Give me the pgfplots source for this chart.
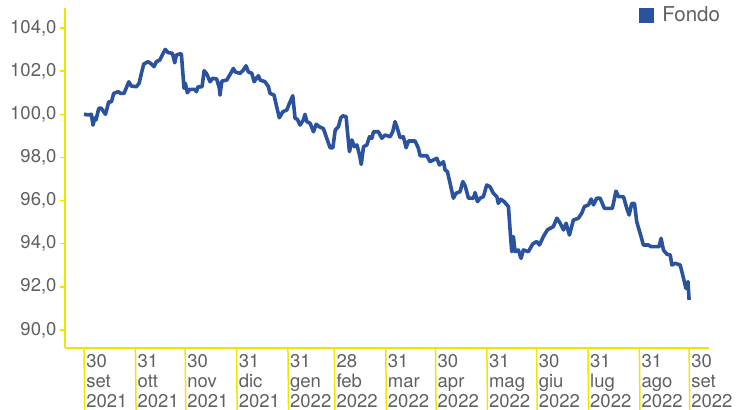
\documentclass[border=0pt]{standalone}
\usepackage{fontspec}
\setmainfont{TeX Gyre Heros}
\usepackage{pgfplots}
\usepackage{pgfplotstable}
\pgfplotsset{compat=1.18}
\definecolor{ayel}{HTML}{F2E500}
\definecolor{fblue}{HTML}{2B529E}
\definecolor{tgray}{HTML}{5F6062}
\pgfplotstableread{
d v
0 100.01
2.4 99.97
4.4 100.00
5.4 99.50
6.5 99.83
7.2 99.74
8.9 100.28
10.4 100.28
12.9 100.00
14.9 100.58
16.5 100.58
17.9 100.97
20.5 101.05
22.1 100.97
24.1 100.97
27.0 101.51
28.5 101.31
31.6 101.28
33.2 101.44
34.6 101.90
36.0 102.33
38.6 102.44
40.2 102.36
42.2 102.21
43.6 102.44
45.7 102.52
47.7 102.83
49.0 103.01
50.7 102.86
53.3 102.83
54.7 102.39
55.7 102.75
57.7 102.80
58.7 102.80
60.3 101.21
61.1 101.44
62.3 101.00
63.8 101.16
66.8 101.16
67.8 101.05
68.8 101.28
71.2 101.28
72.4 102.02
73.8 101.90
75.0 101.70
76.0 101.51
77.6 101.67
80.0 101.64
81.6 101.21
82.0 100.89
83.1 101.54
86.1 101.59
88.1 101.85
90.1 102.13
91.1 101.97
94.1 101.90
96.1 102.05
97.7 102.25
99.1 101.97
101.2 101.90
102.6 101.51
104.2 101.70
105.2 101.79
106.2 101.59
109.2 101.51
111.2 101.28
112.2 100.97
114.6 100.89
116.2 100.35
117.8 99.84
119.9 100.12
122.3 100.20
123.9 100.51
125.9 100.86
127.3 99.81
128.7 99.77
130.3 99.50
132.3 99.74
133.3 100.00
134.4 99.66
136.4 99.58
138.4 99.19
140.0 99.54
142.0 99.42
144.4 99.34
146.4 98.89
148.4 98.45
150.1 98.45
151.5 99.27
153.4 99.42
154.9 99.84
156.1 99.93
158.1 99.89
158.9 99.19
160.1 98.27
161.6 98.81
163.0 98.50
164.6 98.58
166.2 98.11
167.2 97.68
168.6 98.50
170.6 98.58
172.2 98.96
173.6 98.89
174.6 99.19
177.6 99.19
179.6 98.89
181.6 99.04
184.6 98.96
186.2 99.19
187.6 99.66
189.0 99.35
190.6 98.92
192.6 98.96
194.3 98.45
195.7 98.76
199.7 98.76
201.7 98.42
202.7 98.08
206.8 98.08
208.7 97.80
210.7 97.88
212.8 97.96
214.4 97.65
216.8 97.80
217.8 97.42
219.2 97.34
220.8 96.80
222.8 96.11
224.4 96.34
226.8 96.41
228.5 96.88
229.9 96.68
231.9 96.11
234.9 96.11
235.9 96.37
237.3 95.95
238.9 96.11
240.9 96.18
242.9 96.72
244.9 96.64
246.9 96.34
249.0 96.18
249.9 95.87
251.4 96.06
253.4 95.95
256.0 95.72
257.0 94.64
258.0 93.63
259.0 94.33
260.0 93.63
262.0 93.71
263.6 93.32
265.0 93.71
268.0 93.63
270.7 93.99
273.1 94.10
274.7 93.94
277.1 94.33
279.5 94.64
281.1 94.71
283.1 94.79
285.2 95.18
287.2 94.95
289.2 94.64
290.8 94.95
292.8 94.40
295.2 95.10
298.2 95.18
300.2 95.41
301.8 95.72
304.3 95.80
305.9 96.07
307.3 95.80
309.3 96.11
311.3 96.11
313.9 95.64
316.3 95.64
318.7 95.64
320.9 96.44
322.4 96.18
325.4 96.18
327.4 95.64
328.8 95.33
330.4 95.87
332.0 95.87
333.4 95.02
336.0 94.33
337.4 93.94
340.4 93.94
342.1 93.86
346.9 93.86
348.1 94.25
349.5 93.71
351.6 93.51
353.6 93.48
354.6 93.01
356.6 93.09
359.6 93.01
361.6 92.40
363.1 91.93
364.3 92.24
365.0 91.39
}\fondo
\begin{document}
\begin{tikzpicture}
\useasboundingbox (0,0) rectangle (736bp,410bp);
\begin{axis}[
  at={(65bp,62bp)}, anchor=south west,
  scale only axis, width=644bp, height=340bp,
  xmin=-11.5, xmax=377, ymin=89.16, ymax=104.93,
  clip=false,
  axis x line=bottom, axis y line=left,
  axis line style={ayel, line width=1.5bp, -},
  major tick length=5bp,
  tick align=outside,
  xtick style={draw=none},
  ytick style={ayel, line width=1.5bp},
  ytick={90,92,...,104},
  xtick={0,31,61,92,123,151,182,212,243,273,304,335,365},
  xticklabels={{30\\set\\2021},{31\\ott\\2021},{30\\nov\\2021},{31\\dic\\2021},{31\\gen\\2022},{28\\feb\\2022},{31\\mar\\2022},{30\\apr\\2022},{31\\mag\\2022},{30\\giu\\2022},{31\\lug\\2022},{31\\ago\\2022},{30\\set\\2022}},
  xticklabel style={align=left, anchor=north west, xshift=1bp, text=tgray,
     font=\fontsize{18.5bp}{20bp}\selectfont, inner sep=1bp},
  yticklabel style={text=tgray, font=\fontsize{18.5bp}{20bp}\selectfont},
  /pgf/number format/.cd, fixed, fixed zerofill, precision=1, use comma, assume math mode=true,
  /pgfplots/.cd,
  legend style={at={(rel axis cs:0.8915,1.01)}, anchor=north west, draw=none, fill=none,
     font=\fontsize{20.5bp}{24bp}\selectfont, text=tgray, inner sep=0pt},
  legend image code/.code={\fill[fblue, draw=none] (0bp,-7.5bp) rectangle (15bp,7.5bp);
     \path[draw=none, fill=none] (21bp,0bp) circle (0.01bp);},
]
\addplot[fblue, line width=3.6bp, line join=round] table[x=d, y=v] {\fondo};
\addlegendentry{Fondo}
\pgfplotsinvokeforeach{0,31,61,92,123,151,182,212,243,273,304,335,365}{
  \draw[ayel, line width=1.5bp] (axis cs:#1,89.16) -- ++(0,-62bp);
}
\end{axis}
\end{tikzpicture}
\end{document}
